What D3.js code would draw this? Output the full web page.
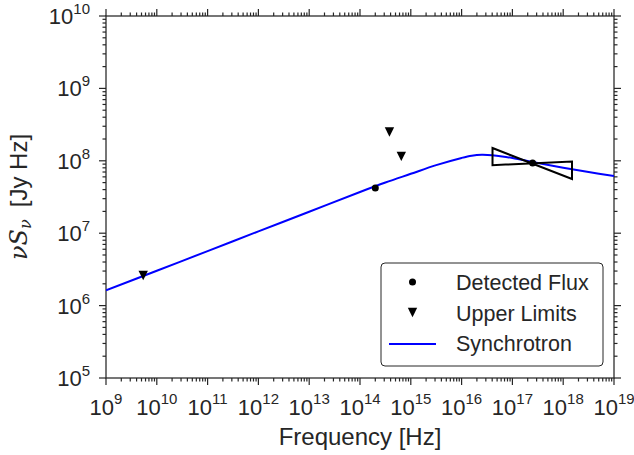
<!DOCTYPE html>
<html><head><meta charset="utf-8">
<script src="https://cdn.jsdelivr.net/npm/d3@7"></script>
<style>body{margin:0;background:#fff} svg{display:block}</style>
</head><body><svg id="c" width="634" height="455"></svg>
<script>
// ---- data ----
const xTickExps = [9,10,11,12,13,14,15,16,17,18,19];
const yTickExps = [5,6,7,8,9,10];
const synchFreq = [1e9,1e10,1e11,1e12,1e13,1e14,3.16e14,1e15,3.16e15,1e16,1.58e16,2.51e16,3.98e16,6.31e16,1e17,3.16e17,1e18,3.16e18,1e19];
const synchFlux = [1.62e6,3.03e6,5.66e6,1.06e7,1.98e7,3.71e7,5.01e7,6.61e7,8.71e7,1.096e8,1.175e8,1.208e8,1.191e8,1.148e8,1.091e8,9.33e7,8.04e7,7.0e7,6.17e7];
const detFreq = [2.0e14, 2.5e17];
const detFlux = [4.2e7, 9.3e7];
const ulFreq = [5.4e9, 3.8e14, 6.5e14];
const ulFlux = [2.6e6, 2.5e8, 1.15e8];
const bowFreq = [4.06e16, 1.49e18];
const bowUpper = [1.5e8, 9.8e7];
const bowLower = [8.7e7, 5.6e7];
const legendLabels = ["Detected Flux", "Upper Limits", "Synchrotron"];

// ---- layout ----
const svg = d3.select("#c");
const L = 106, R = 614, T = 16, B = 378;
const ink = "#262626";
const x = d3.scaleLog().domain([1e9, 1e19]).range([L, R]);
const y = d3.scaleLog().domain([1e5, 1e10]).range([B, T]);

const minorX = [], minorY = [];
for (let e = 9; e < 19; e++) for (let k = 2; k <= 9; k++) minorX.push(k * Math.pow(10, e));
for (let e = 5; e < 10; e++) for (let k = 2; k <= 9; k++) minorY.push(k * Math.pow(10, e));

const g = svg.append("g");
function ticks(dir, vals, len) {
  vals.forEach(v => {
    if (dir === "b") g.append("line").attr("x1", x(v)).attr("x2", x(v)).attr("y1", B).attr("y2", B + len);
    if (dir === "t") g.append("line").attr("x1", x(v)).attr("x2", x(v)).attr("y1", T).attr("y2", T - len);
    if (dir === "l") g.append("line").attr("y1", y(v)).attr("y2", y(v)).attr("x1", L).attr("x2", L - len);
    if (dir === "r") g.append("line").attr("y1", y(v)).attr("y2", y(v)).attr("x1", R).attr("x2", R + len);
  });
}
const xMaj = xTickExps.map(e => Math.pow(10, e));
const yMaj = yTickExps.map(e => Math.pow(10, e));
ticks("b", xMaj, 7); ticks("t", xMaj, 7); ticks("b", minorX, 3.5); ticks("t", minorX, 3.5);
ticks("l", yMaj, 7); ticks("r", yMaj, 7); ticks("l", minorY, 3.5); ticks("r", minorY, 3.5);
g.selectAll("line").attr("stroke", ink).attr("stroke-width", 1.2);

svg.append("rect").attr("x", L).attr("y", T).attr("width", R - L).attr("height", B - T)
  .attr("fill", "none").attr("stroke", ink).attr("stroke-width", 1.25);

// tick labels
const font = "Liberation Sans, Arial, sans-serif";
xTickExps.forEach(e => {
  const t = svg.append("text").attr("x", x(Math.pow(10, e))).attr("y", 415)
    .attr("text-anchor", "middle").attr("font-family", font).attr("font-size", 22).attr("fill", ink);
  t.append("tspan").text("10");
  t.append("tspan").attr("dy", -11).attr("font-size", 15).text(e);
});
yTickExps.forEach(e => {
  const t = svg.append("text").attr("x", 90).attr("y", y(Math.pow(10, e)) + 8)
    .attr("text-anchor", "end").attr("font-family", font).attr("font-size", 22).attr("fill", ink);
  t.append("tspan").text("10");
  t.append("tspan").attr("dy", -10).attr("font-size", 15).text(e);
});

// axis labels
svg.append("text").attr("x", (L + R) / 2).attr("y", 445).attr("text-anchor", "middle")
  .attr("font-family", font).attr("font-size", 24).attr("fill", ink).text("Frequency [Hz]");
const yl = svg.append("text").attr("transform", `translate(27,${(T + B) / 2}) rotate(-90)`)
  .attr("text-anchor", "middle").attr("font-family", font).attr("font-size", 24).attr("fill", ink);
yl.append("tspan").attr("font-family", "DejaVu Serif, serif").attr("font-style", "italic").text("ν");
yl.append("tspan").attr("font-family", "DejaVu Serif, serif").attr("font-style", "italic").text("S");
yl.append("tspan").attr("font-family", "DejaVu Serif, serif").attr("font-style", "italic")
  .attr("font-size", 16).attr("dy", 4).text("ν");
yl.append("tspan").attr("dy", -4).attr("dx", 12).text("[Jy Hz]");

// plot clip
svg.append("clipPath").attr("id", "clip").append("rect").attr("x", L).attr("y", T).attr("width", R - L).attr("height", B - T);
const p = svg.append("g").attr("clip-path", "url(#clip)");

const synchData = synchFreq.map((f, i) => [f, synchFlux[i]]);
p.append("path").datum(synchData)
  .attr("d", d3.line().x(d => x(d[0])).y(d => y(d[1])).curve(d3.curveCatmullRom.alpha(0.5)))
  .attr("fill", "none").attr("stroke", "#0000ff").attr("stroke-width", 2);

// bowtie
const bow = [[bowFreq[0], bowUpper[0]], [bowFreq[1], bowLower[1]], [bowFreq[1], bowUpper[1]], [bowFreq[0], bowLower[0]]];
p.append("path").attr("d", d3.line().x(d => x(d[0])).y(d => y(d[1]))(bow) + "Z")
  .attr("fill", "none").attr("stroke", "#000").attr("stroke-width", 2).attr("stroke-linejoin", "miter");

// detected
detFreq.forEach((f, i) => {
  p.append("circle").attr("cx", x(f)).attr("cy", y(detFlux[i])).attr("r", 3.5).attr("fill", "#000");
});
const tri = (cx, cy, s) => `M${cx - s},${cy - s}L${cx + s},${cy - s}L${cx},${cy + s}Z`;
ulFreq.forEach((f, i) => {
  p.append("path").attr("d", tri(x(f), y(ulFlux[i]), 4.7)).attr("fill", "#000");
});

// legend
const lg = svg.append("g");
lg.append("rect").attr("x", 381).attr("y", 263).attr("width", 222).attr("height", 103).attr("rx", 4)
  .attr("fill", "#fff").attr("stroke", ink).attr("stroke-width", 1);
lg.append("circle").attr("cx", 412.5).attr("cy", 282).attr("r", 3.5).attr("fill", "#000");
lg.append("path").attr("d", tri(412.5, 312.5, 4.7)).attr("fill", "#000");
lg.append("line").attr("x1", 389).attr("x2", 436).attr("y1", 344).attr("y2", 344)
  .attr("stroke", "#0000ff").attr("stroke-width", 2);
legendLabels.forEach((s, i) => {
  lg.append("text").attr("x", 456).attr("y", 290 + i * 30.5).attr("font-family", font)
    .attr("font-size", 21.5).attr("fill", ink).text(s);
});
</script></body></html>
